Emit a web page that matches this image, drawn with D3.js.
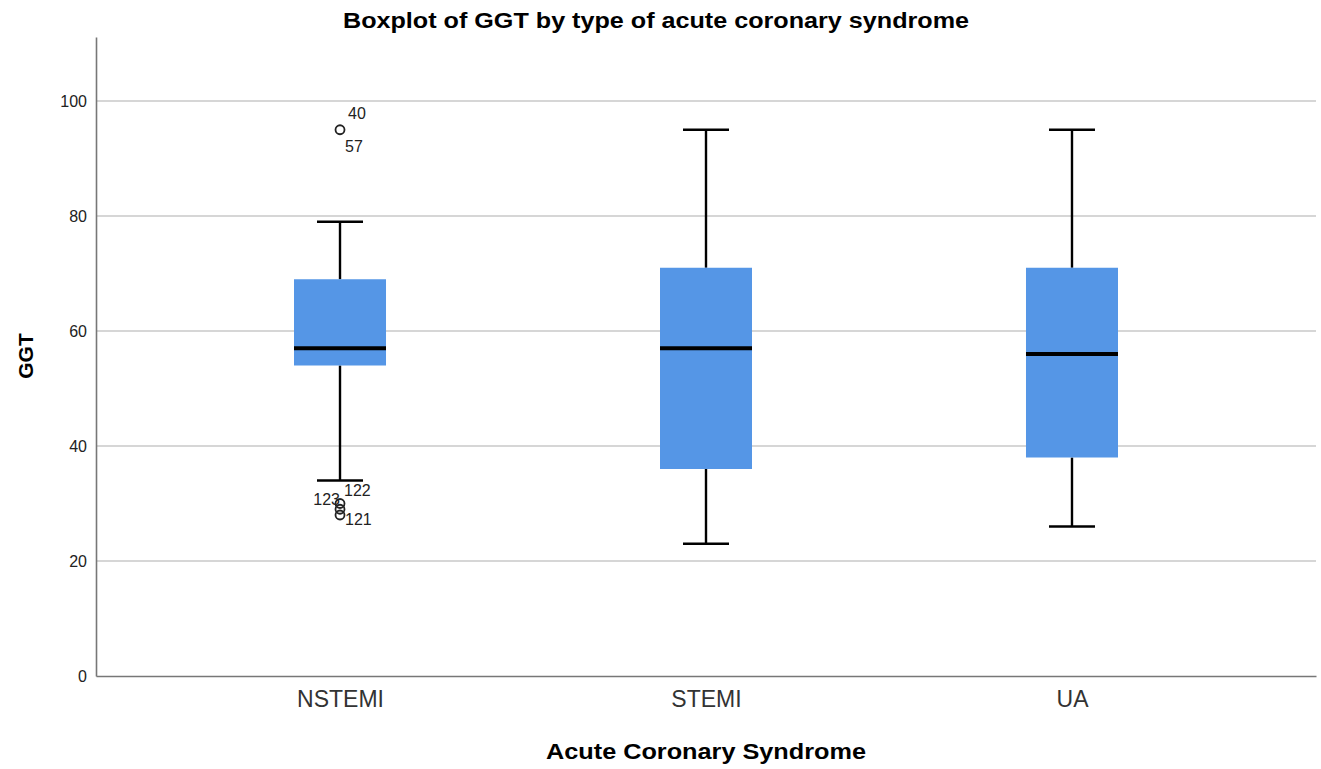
<!DOCTYPE html>
<html><head><meta charset="utf-8">
<script src="https://cdn.jsdelivr.net/npm/d3@7"></script>
<style>body{margin:0;background:#fff;} svg{display:block;} text{font-family:"Liberation Sans",Arial,sans-serif;}</style>
</head><body>
<svg id="chart" width="1321" height="769"></svg>
<script>
const categories = ["NSTEMI", "STEMI", "UA"];
const q1 = [54, 36, 38];
const medians = [57, 57, 56];
const q3 = [69, 71, 71];
const whiskerLow = [34, 23, 26];
const whiskerHigh = [79, 95, 95];
const outlierCat = ["NSTEMI", "NSTEMI", "NSTEMI", "NSTEMI"];
const outlierVal = [95, 30, 29, 28];
const outlierLabels = [
  {cat: "NSTEMI", val: 95, text: "40", dx: 8, dy: -15, anchor: "start"},
  {cat: "NSTEMI", val: 95, text: "57", dx: 5, dy: 18, anchor: "start"},
  {cat: "NSTEMI", val: 30, text: "122", dx: 4, dy: -12, anchor: "start"},
  {cat: "NSTEMI", val: 29, text: "123", dx: 0, dy: -8, anchor: "end"},
  {cat: "NSTEMI", val: 28, text: "121", dx: 5, dy: 6, anchor: "start"}
];
const yTicks = [0, 20, 40, 60, 80, 100];

const svg = d3.select("#chart");
const mLeft = 96, mRight = 1316, mTop = 37, mBottom = 676;
const yRef = d3.scaleLinear().domain([0, 100]).range([mBottom, 101]);
const yMax = yRef.invert(mTop);
const ys = d3.scaleLinear().domain([0, yMax]).range([mBottom, mTop]);
const x = d3.scalePoint().domain(categories).range([mLeft, mRight]).padding(0.6667);
const boxW = 92, capW = 46;

// gridlines
svg.append("g").selectAll("line").data(yTicks.filter(d => d > 0)).join("line")
  .attr("x1", mLeft).attr("x2", mRight).attr("y1", d => ys(d)).attr("y2", d => ys(d))
  .attr("stroke", "#c8c8c8").attr("stroke-width", 1.6);

// axes
const yAxis = d3.axisLeft(ys).tickValues(yTicks).tickSize(0).tickPadding(9);
const gy = svg.append("g").attr("transform", `translate(${mLeft},0)`).call(yAxis);
gy.select(".domain").attr("stroke", "#777").attr("stroke-width", 1.6);
gy.selectAll("text").attr("font-size", 16).attr("fill", "#222").attr("font-family", "Liberation Sans, Arial, sans-serif");

const xAxis = d3.axisBottom(x).tickSize(0).tickPadding(15);
const gx = svg.append("g").attr("transform", `translate(0,${mBottom})`).call(xAxis);
gx.select(".domain").attr("stroke", "#777").attr("stroke-width", 1.6);
gx.selectAll("text").attr("font-size", 23).attr("fill", "#333").attr("font-family", "Liberation Sans, Arial, sans-serif");

const data = categories.map((c, i) => ({c, q1: q1[i], med: medians[i], q3: q3[i], lo: whiskerLow[i], hi: whiskerHigh[i]}));
const g = svg.append("g");
data.forEach(d => {
  const cx = x(d.c);
  g.append("line").attr("x1", cx).attr("x2", cx).attr("y1", ys(d.hi)).attr("y2", ys(d.q3)).attr("stroke", "#000").attr("stroke-width", 2.4);
  g.append("line").attr("x1", cx).attr("x2", cx).attr("y1", ys(d.q1)).attr("y2", ys(d.lo)).attr("stroke", "#000").attr("stroke-width", 2.4);
  g.append("line").attr("x1", cx - capW/2).attr("x2", cx + capW/2).attr("y1", ys(d.hi)).attr("y2", ys(d.hi)).attr("stroke", "#000").attr("stroke-width", 2.6);
  g.append("line").attr("x1", cx - capW/2).attr("x2", cx + capW/2).attr("y1", ys(d.lo)).attr("y2", ys(d.lo)).attr("stroke", "#000").attr("stroke-width", 2.6);
  g.append("rect").attr("x", cx - boxW/2).attr("width", boxW)
    .attr("y", ys(d.q3)).attr("height", ys(d.q1) - ys(d.q3))
    .attr("fill", "#5596e6");
  g.append("line").attr("x1", cx - boxW/2).attr("x2", cx + boxW/2).attr("y1", ys(d.med)).attr("y2", ys(d.med)).attr("stroke", "#000").attr("stroke-width", 4);
});

// outliers
g.selectAll("circle.out").data(outlierVal.map((v, i) => ({c: outlierCat[i], v}))).join("circle")
  .attr("class", "out").attr("cx", d => x(d.c)).attr("cy", d => ys(d.v)).attr("r", 4.5)
  .attr("fill", "none").attr("stroke", "#222").attr("stroke-width", 1.8);
g.selectAll("text.ol").data(outlierLabels).join("text")
  .attr("class", "ol").attr("x", d => x(d.cat) + d.dx).attr("y", d => ys(d.val) + d.dy)
  .attr("text-anchor", d => d.anchor).attr("dominant-baseline", "middle")
  .attr("font-size", 16).attr("fill", "#222").text(d => d.text);

// titles
svg.append("text").attr("x", 656).attr("y", 28).attr("text-anchor", "middle")
  .attr("font-size", 22).attr("font-weight", "bold").attr("fill", "#000")
  .attr("textLength", 626).attr("lengthAdjust", "spacingAndGlyphs")
  .text("Boxplot of GGT by type of acute coronary syndrome");
svg.append("text").attr("x", 706).attr("y", 759).attr("text-anchor", "middle")
  .attr("font-size", 22).attr("font-weight", "bold").attr("fill", "#000")
  .attr("textLength", 320).attr("lengthAdjust", "spacingAndGlyphs")
  .text("Acute Coronary Syndrome");
svg.append("text").attr("transform", `translate(33,356) rotate(-90)`).attr("text-anchor", "middle")
  .attr("font-size", 21).attr("font-weight", "bold").attr("fill", "#000")
  .text("GGT");
</script>
</body></html>
